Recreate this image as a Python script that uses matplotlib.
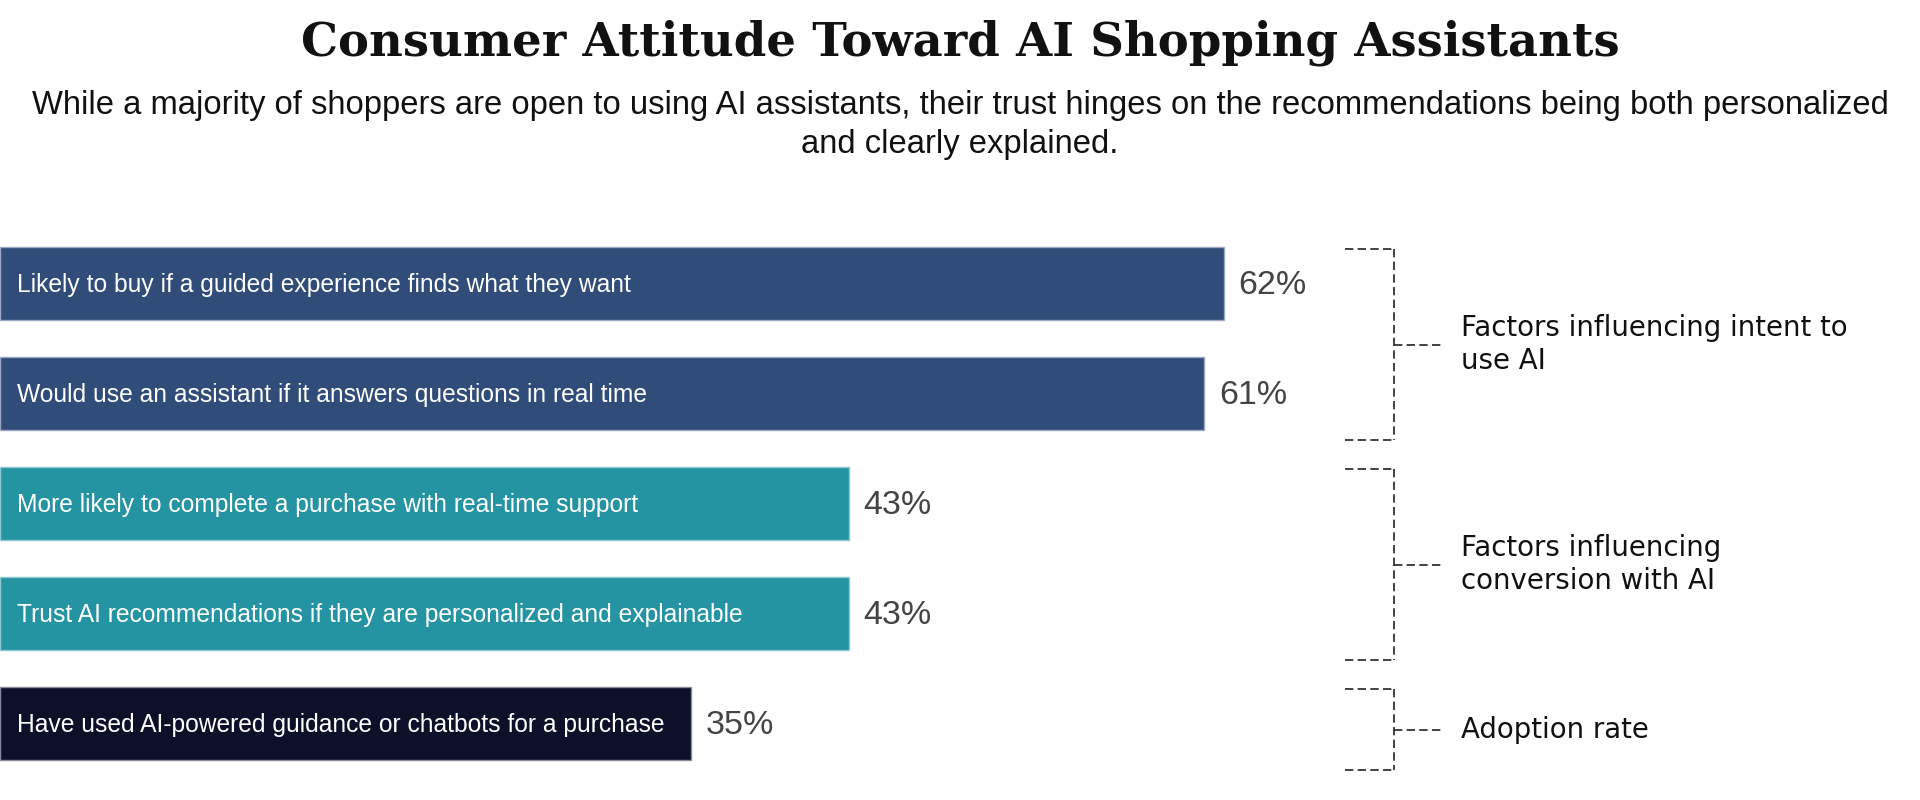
import matplotlib
matplotlib.use("Agg")
import matplotlib.pyplot as plt
import matplotlib.transforms as mtransforms

# data
labels = [
    "Likely to buy if a guided experience finds what they want",
    "Would use an assistant if it answers questions in real time",
    "More likely to complete a purchase with real-time support",
    "Trust AI recommendations if they are personalized and explainable",
    "Have used AI-powered guidance or chatbots for a purchase",
]
values = [62, 61, 43, 43, 35]
bar_colors = ["#304C79", "#304C79", "#2494A2", "#2494A2", "#0D1029"]
edge_colors = ["#9AA8C4", "#9AA8C4", "#8CCAD2", "#8CCAD2", "#868A9C"]

group_first = [0, 2, 4]
group_last = [1, 3, 4]
group_names = ["Factors influencing intent to\nuse AI",
               "Factors influencing\nconversion with AI",
               "Adoption rate"]

title = "Consumer Attitude Toward AI Shopping Assistants"
subtitle = ("While a majority of shoppers are open to using AI assistants, their trust hinges on the "
            "recommendations being both personalized\nand clearly explained.")

fig = plt.figure(figsize=(19.2, 8), dpi=100)
fig.patch.set_facecolor("white")
ax = fig.add_axes([0, 0, 1, 1])
ax.set_xlim(0, 97.26)
ax.set_ylim(4.695, -2.577)
ax.axis("off")

idx = list(range(len(values)))
ax.barh(idx, values, height=0.664, color=bar_colors, edgecolor=edge_colors, linewidth=1.0)

for i, (lab, v) in enumerate(zip(labels, values)):
    ax.text(0.85, i + 0.01, lab, color="white", fontsize=17.7, va="center", ha="left",
            family="Liberation Sans")
    ax.text(v + 0.75, i + 0.02, f"{v}%", color="#444444", fontsize=24.5, va="center",
            ha="left", family="Liberation Sans")

# brackets on the right (x in axes fraction, y in data)
trans = mtransforms.blended_transform_factory(ax.transAxes, ax.transData)
x_left, x_mid, x_right, x_text = 0.7005, 0.726, 0.7516, 0.761
dash_kw = dict(color="#222222", lw=1.2, dashes=(5, 2.6), transform=trans, clip_on=False)
for g0, g1, name in zip(group_first, group_last, group_names):
    top = g0 - 0.31
    bot = g1 + 0.42
    mid = (top + bot) / 2
    ax.plot([x_left, x_mid], [top, top], **dash_kw)
    ax.plot([x_left, x_mid], [bot, bot], **dash_kw)
    ax.plot([x_mid, x_mid], [top, bot], **dash_kw)
    ax.plot([x_mid, x_right], [mid, mid], **dash_kw)
    ax.text(x_text, mid, name, transform=trans, fontsize=19.9, va="center", ha="left",
            color="#111111", family="DejaVu Sans", linespacing=1.22)

fig.text(0.5, 1 - 43 / 800, title, ha="center", va="center", fontsize=33.5,
         fontweight="bold", family="DejaVu Serif", color="#111111")
fig.text(0.5, 1 - 125 / 800, subtitle, ha="center", va="center", fontsize=23.6,
         family="Liberation Sans", color="#111111", linespacing=1.32)

fig.savefig("out.png", dpi=100, facecolor="white")
